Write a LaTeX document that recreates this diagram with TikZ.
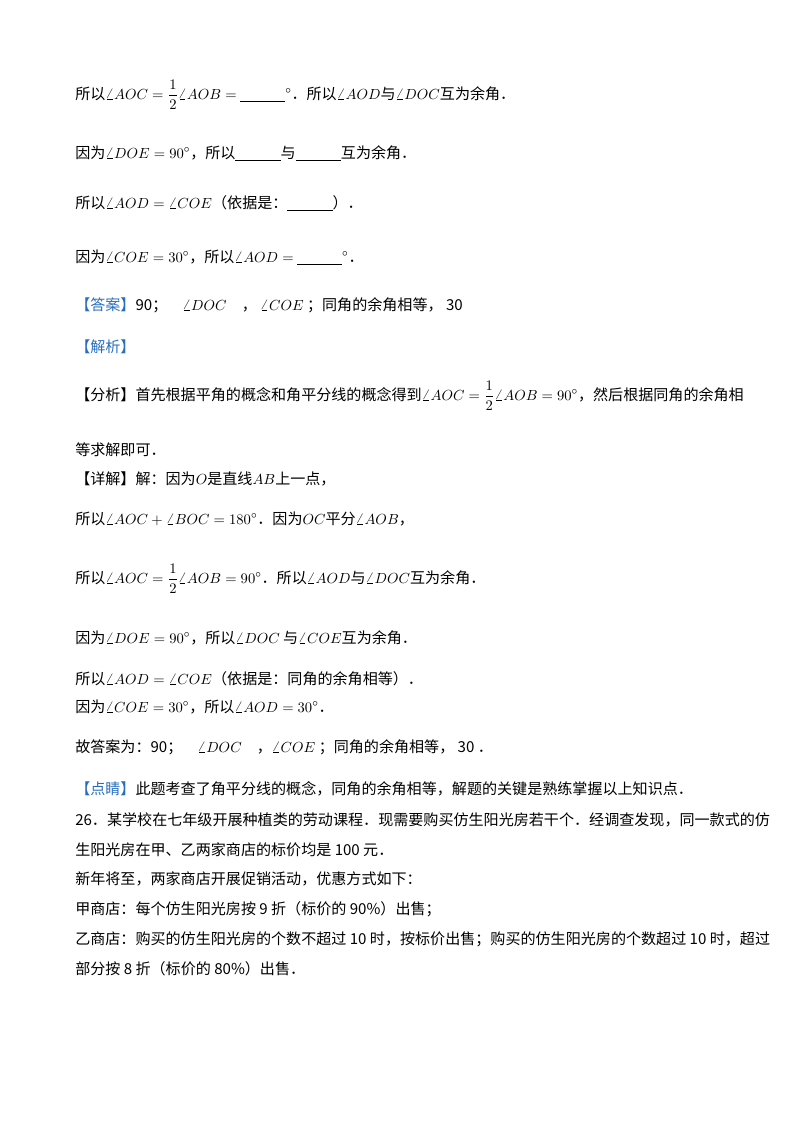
\documentclass[tikz,border=0pt]{standalone}
\usepackage{amsmath}
\usepackage{fontspec}
\setmainfont{Noto Sans CJK SC}
\definecolor{ansblue}{RGB}{40,110,190}
\newcommand{\blk}{\underline{\hspace{3em}}}
\begin{document}
\begin{tikzpicture}[x=0.75pt,y=-0.75pt,
  tl/.style={anchor=base west,inner sep=0pt,font=\fontsize{11.3}{13}\selectfont}]
\useasboundingbox (0,0) rectangle (800,1132);
\node[tl] (l1) at (75,99) {所以$\angle AOC=\dfrac{1}{2}\angle AOB=$\ \blk$^\circ$．所以$\angle AOD$与$\angle DOC$互为余角．};
\node[tl] (l2) at (75,158) {因为$\angle DOE=90^\circ$，所以\blk 与\blk 互为余角．};
\node[tl] (l3) at (75,208) {所以$\angle AOD=\angle COE$（依据是：\blk）．};
\node[tl] (l4) at (75,262) {因为$\angle COE=30^\circ$，所以$\angle AOD=$\ \blk$^\circ$．};
\node[tl] (l5) at (75,310) {{\color{ansblue}【答案】}90；\quad$\angle DOC$\quad，\ $\angle COE$\ ；同角的余角相等，\ 30};
\node[tl] (l6) at (75,352) {\color{ansblue}【解析】};
\node[tl] (l7) at (75,400) {【分析】首先根据平角的概念和角平分线的概念得到$\angle AOC=\dfrac{1}{2}\angle AOB=90^\circ$，然后根据同角的余角相};
\node[tl] (l8) at (75,455) {等求解即可．};
\node[tl] (l9) at (75,484) {【详解】解：因为$O$是直线$AB$上一点，};
\node[tl] (l10) at (75,524) {所以$\angle AOC+\angle BOC=180^\circ$．因为$OC$平分$\angle AOB$，};
\node[tl] (l11) at (75,583) {所以$\angle AOC=\dfrac{1}{2}\angle AOB=90^\circ$．所以$\angle AOD$与$\angle DOC$互为余角．};
\node[tl] (l12) at (75,643) {因为$\angle DOE=90^\circ$，所以$\angle DOC$\ 与$\angle COE$互为余角．};
\node[tl] (l13) at (75,684) {所以$\angle AOD=\angle COE$（依据是：同角的余角相等）．};
\node[tl] (l14) at (75,712) {因为$\angle COE=30^\circ$，所以$\angle AOD=30^\circ$．};
\node[tl] (l15) at (75,752) {故答案为：90；\quad$\angle DOC$\quad，$\angle COE$\ ；同角的余角相等，\ 30\ ．};
\node[tl] (l16) at (75,794) {{\color{ansblue}【点睛】}此题考查了角平分线的概念，同角的余角相等，解题的关键是熟练掌握以上知识点．};
\node[tl] (l17) at (75,825) {26．某学校在七年级开展种植类的劳动课程．现需要购买仿生阳光房若干个．经调查发现，同一款式的仿};
\node[tl] (l18) at (75,855) {生阳光房在甲、乙两家商店的标价均是 100 元．};
\node[tl] (l19) at (75,884) {新年将至，两家商店开展促销活动，优惠方式如下：};
\node[tl] (l20) at (75,914) {甲商店：每个仿生阳光房按 9 折（标价的 90\%）出售；};
\node[tl] (l21) at (75,944) {乙商店：购买的仿生阳光房的个数不超过 10 时，按标价出售；购买的仿生阳光房的个数超过 10 时，超过};
\node[tl] (l22) at (75,974) {部分按 8 折（标价的 80\%）出售．};
\end{tikzpicture}
\end{document}
